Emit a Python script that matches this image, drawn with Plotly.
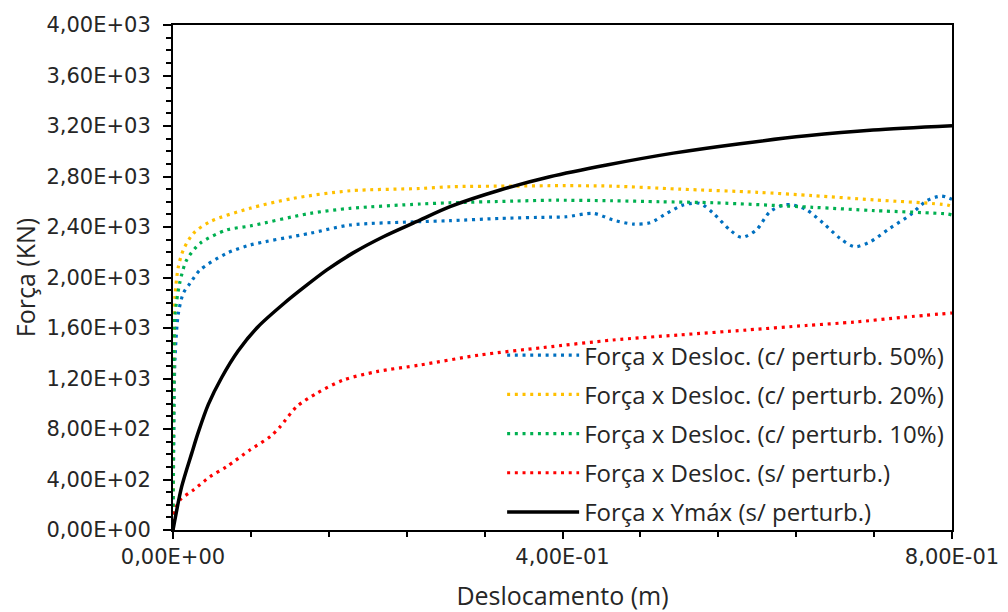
import plotly.graph_objects as go

# ---- data ----
x_ymax = [0, 0.0089, 0.0192, 0.026, 0.0363, 0.05, 0.067, 0.0876, 0.1133, 0.135, 0.158, 0.185,
          0.216, 0.25, 0.2845, 0.336, 0.387, 0.4454, 0.5138, 0.5823, 0.6508, 0.719, 0.8]
y_ymax = [0, 343, 607, 775, 995, 1208, 1420, 1612, 1790, 1925, 2060, 2195,
          2323, 2442, 2561, 2693, 2798, 2891, 2985, 3060, 3122, 3168, 3202]

x_p20 = [0, 0.0005, 0.001, 0.002, 0.0055, 0.0106, 0.021, 0.038, 0.079, 0.1236, 0.182, 0.2537,
         0.2845, 0.35, 0.387, 0.45, 0.52, 0.6, 0.657, 0.72, 0.795, 0.8]
y_p20 = [0, 800, 1400, 1848, 2085, 2218, 2350, 2442, 2548, 2627, 2687, 2705,
         2719, 2724, 2727, 2724, 2700, 2675, 2648, 2615, 2574, 2561]

x_p10 = [0, 0.0005, 0.001, 0.002, 0.0072, 0.014, 0.0277, 0.055, 0.079, 0.1407, 0.182, 0.2537,
         0.2845, 0.35, 0.387, 0.45, 0.5, 0.555, 0.657, 0.72, 0.795, 0.8]
y_p10 = [0, 700, 1300, 1700, 1967, 2138, 2270, 2376, 2408, 2508, 2548, 2582,
         2592, 2605, 2612, 2608, 2600, 2592, 2556, 2530, 2503, 2495]

x_p50 = [0, 0.0008, 0.002, 0.0055, 0.0106, 0.0175, 0.0277, 0.055, 0.079, 0.1407, 0.182, 0.2537,
         0.2845, 0.336, 0.387, 0.404, 0.4316, 0.452, 0.473, 0.49, 0.507, 0.524, 0.541, 0.555,
         0.572, 0.584, 0.599, 0.613, 0.627, 0.637, 0.651, 0.668, 0.685, 0.700, 0.716, 0.736,
         0.757, 0.774, 0.789, 0.8]
y_p50 = [0, 700, 1350, 1716, 1875, 1954, 2059, 2191, 2257, 2350, 2416, 2442,
         2450, 2468, 2478, 2481, 2508, 2455, 2423, 2434, 2508, 2574, 2587, 2508,
         2376, 2318, 2376, 2521, 2574, 2574, 2534, 2429, 2310, 2244, 2283, 2389,
         2495, 2608, 2645, 2619]

x_sp = [0, 0.002, 0.0072, 0.021, 0.038, 0.055, 0.079, 0.0996, 0.11, 0.127, 0.1476, 0.175,
        0.209, 0.2537, 0.315, 0.38, 0.452, 0.52, 0.589, 0.65, 0.7, 0.75, 0.8]
y_sp = [0, 150, 238, 317, 422, 501, 634, 739, 818, 977, 1083, 1188,
        1254, 1307, 1386, 1445, 1505, 1545, 1584, 1620, 1647, 1685, 1719]

y_tickvals = [0, 400, 800, 1200, 1600, 2000, 2400, 2800, 3200, 3600, 4000]
y_ticktext = ["0,00E+00", "4,00E+02", "8,00E+02", "1,20E+03", "1,60E+03", "2,00E+03",
              "2,40E+03", "2,80E+03", "3,20E+03", "3,60E+03", "4,00E+03"]
x_tickvals = [0, 0.4, 0.8]
x_ticktext = ["0,00E+00", "4,00E-01", "8,00E-01"]

names = ["Força x Desloc. (c/ perturb. 50%)", "Força x Desloc. (c/ perturb. 20%)",
         "Força x Desloc. (c/ perturb. 10%)", "Força x Desloc. (s/ perturb.)",
         "Força x Ymáx (s/ perturb.)"]

DOT = "3px,4.7px"
fig = go.Figure()
series = [(x_p50, y_p50, "#0070C0", DOT, 3.2),
          (x_p20, y_p20, "#FFC000", DOT, 3.2),
          (x_p10, y_p10, "#00B050", DOT, 3.2),
          (x_sp, y_sp, "#FF0000", DOT, 3.2),
          (x_ymax, y_ymax, "#000000", "solid", 3.5)]
for i, (xs, ys, c, d, w) in enumerate(series):
    fig.add_trace(go.Scatter(x=xs, y=ys, mode="lines", name=names[i], legendgroup=f"g{i}",
                             line=dict(color=c, dash=d, width=w, shape="spline", smoothing=0.8)))

TXT = "#262626"
fig.update_layout(
    width=992, height=604,
    margin=dict(l=165, r=48, t=17, b=82),
    paper_bgcolor="white", plot_bgcolor="white",
    font=dict(family="DejaVu Sans", size=21, color=TXT),
    showlegend=True,
    legend=dict(x=0.4225, y=0.39, xanchor="left", yanchor="top", bgcolor="rgba(0,0,0,0)",
                font=dict(family="Open Sans", size=24, color=TXT), tracegroupgap=5,
                traceorder="grouped", itemwidth=72),
    xaxis=dict(range=[0, 0.8], tickvals=x_tickvals, ticktext=x_ticktext, showgrid=False,
               zeroline=False, showline=True, linecolor="black", linewidth=2, mirror=True,
               ticks="outside", ticklen=7, tickwidth=2, tickcolor="black", automargin=False,
               minor=dict(dtick=0.08, ticks="outside", ticklen=5, tickwidth=1.5, tickcolor="black"),
               title=dict(text="Deslocamento (m)", font=dict(family="Open Sans", size=25, color=TXT),
                          standoff=26),
               tickfont=dict(family="DejaVu Sans", size=21, color=TXT)),
    yaxis=dict(range=[0, 4000], tickvals=y_tickvals, ticktext=y_ticktext, showgrid=False,
               zeroline=False, showline=True, linecolor="black", linewidth=2, mirror=True,
               ticks="outside", ticklen=8, tickwidth=2, tickcolor="black", automargin=False,
               ticklabelstandoff=8,
               minor=dict(dtick=100, ticks="outside", ticklen=5, tickwidth=1.5, tickcolor="black"),
               title=dict(text="Força (KN)", font=dict(family="Open Sans", size=25, color=TXT),
                          standoff=15),
               tickfont=dict(family="DejaVu Sans", size=21, color=TXT)),
)
fig.write_html("out.html")
